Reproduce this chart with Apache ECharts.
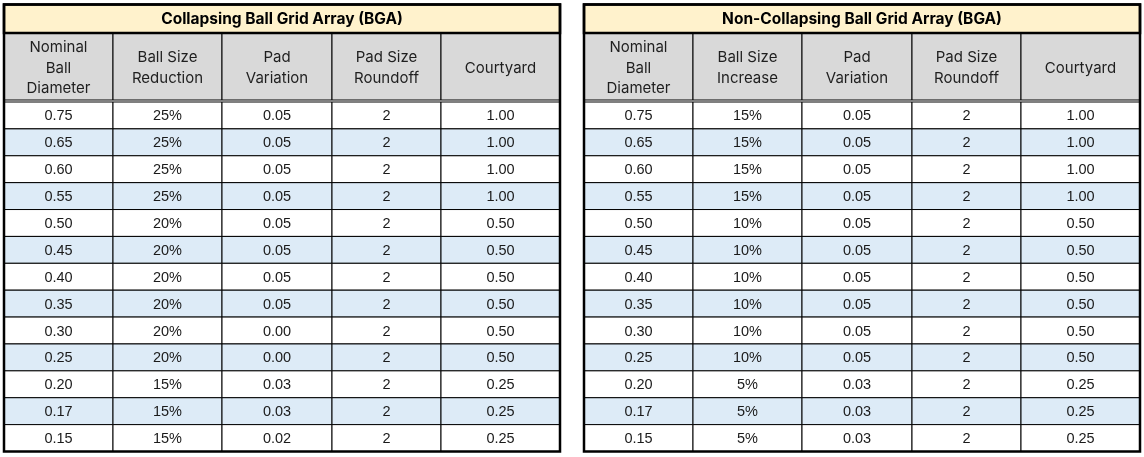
<!DOCTYPE html>
<html>
<head>
<meta charset="utf-8">
<title>BGA Tables</title>
<script src="https://cdn.jsdelivr.net/npm/echarts@6/dist/echarts.min.js"></script>
<style>
  html, body { margin: 0; padding: 0; background: #fff; }
  #chart { width: 1144px; height: 457px; }
</style>
</head>
<body>
<div id="chart"></div>
<script>
// 表格数据
const diameters = ['0.75', '0.65', '0.60', '0.55', '0.50', '0.45', '0.40', '0.35', '0.30', '0.25', '0.20', '0.17', '0.15'];

const collapsingTitle = 'Collapsing Ball Grid Array (BGA)';
const collapsingHeaders = ['Nominal\nBall\nDiameter', 'Ball Size\nReduction', 'Pad\nVariation', 'Pad Size\nRoundoff', 'Courtyard'];
const collapsingReduction = ['25%', '25%', '25%', '25%', '20%', '20%', '20%', '20%', '20%', '20%', '15%', '15%', '15%'];
const collapsingPadVariation = ['0.05', '0.05', '0.05', '0.05', '0.05', '0.05', '0.05', '0.05', '0.00', '0.00', '0.03', '0.03', '0.02'];
const collapsingRoundoff = ['2', '2', '2', '2', '2', '2', '2', '2', '2', '2', '2', '2', '2'];
const collapsingCourtyard = ['1.00', '1.00', '1.00', '1.00', '0.50', '0.50', '0.50', '0.50', '0.50', '0.50', '0.25', '0.25', '0.25'];

const nonCollapsingTitle = 'Non-Collapsing Ball Grid Array (BGA)';
const nonCollapsingHeaders = ['Nominal\nBall\nDiameter', 'Ball Size\nIncrease', 'Pad\nVariation', 'Pad Size\nRoundoff', 'Courtyard'];
const nonCollapsingIncrease = ['15%', '15%', '15%', '15%', '10%', '10%', '10%', '10%', '10%', '10%', '5%', '5%', '5%'];
const nonCollapsingPadVariation = ['0.05', '0.05', '0.05', '0.05', '0.05', '0.05', '0.05', '0.05', '0.05', '0.05', '0.03', '0.03', '0.03'];
const nonCollapsingRoundoff = ['2', '2', '2', '2', '2', '2', '2', '2', '2', '2', '2', '2', '2'];
const nonCollapsingCourtyard = ['1.00', '1.00', '1.00', '1.00', '0.50', '0.50', '0.50', '0.50', '0.50', '0.50', '0.25', '0.25', '0.25'];

// 布局（表格内部坐标）
const TABLE_W = 556;
const TABLE_H = 447;
const COL_EDGES = [0, 109, 218, 328, 437, 556];
const TITLE_BOTTOM = 28.5;
const HEADER_BOTTOM = 95.5;
const BODY_TOP = 97.5;

const HEADER_FONT = 'Inter, "Noto Sans", sans-serif';
const BODY_FONT = '"Liberation Sans", Arial, sans-serif';

function rowSpan(row) {
  // row 0 = 表头, 1..n = 数据行
  if (row === 0) return [TITLE_BOTTOM, HEADER_BOTTOM];
  const h = (TABLE_H - BODY_TOP) / diameters.length;
  return [BODY_TOP + (row - 1) * h, BODY_TOP + row * h];
}

function buildTable(index, title, headers, columns) {
  const cells = [];
  headers.forEach((text, c) => cells.push({ c, r: 0, text }));
  diameters.forEach((d, r) => {
    columns.forEach((col, c) => cells.push({ c, r: r + 1, text: col[r] }));
  });

  const cellSeries = {
    type: 'custom',
    xAxisIndex: index,
    yAxisIndex: index,
    silent: true,
    clip: false,
    animation: false,
    data: cells.map(cell => [cell.c, cell.r]),
    renderItem(params, api) {
      const cell = cells[params.dataIndex];
      const span = rowSpan(cell.r);
      const p0 = api.coord([COL_EDGES[cell.c], span[0]]);
      const p1 = api.coord([COL_EDGES[cell.c + 1], span[1]]);
      const isHeader = cell.r === 0;
      const fill = isHeader ? '#D9D9D9' : (cell.r % 2 === 0 ? '#DDEBF7' : '#FFFFFF');
      return {
        type: 'group',
        children: [
          {
            type: 'rect',
            shape: { x: p0[0], y: p0[1], width: p1[0] - p0[0], height: p1[1] - p0[1] },
            style: { fill, stroke: '#000', lineWidth: 1 }
          },
          {
            type: 'text',
            style: {
              text: cell.text,
              x: (p0[0] + p1[0]) / 2,
              y: (p0[1] + p1[1]) / 2 + (isHeader ? 1.5 : 1),
              textAlign: 'center',
              textVerticalAlign: 'middle',
              fontFamily: isHeader ? HEADER_FONT : BODY_FONT,
              fontSize: isHeader ? 15 : 14.5,
              lineHeight: 20.5,
              fill: isHeader ? '#1f1f1f' : '#1a1a1a'
            }
          }
        ]
      };
    }
  };

  const frameSeries = {
    type: 'custom',
    xAxisIndex: index,
    yAxisIndex: index,
    silent: true,
    clip: false,
    animation: false,
    z: 5,
    data: [[0, 0]],
    renderItem(params, api) {
      const p0 = api.coord([0, 0]);
      const p1 = api.coord([TABLE_W, TITLE_BOTTOM]);
      const p2 = api.coord([TABLE_W, TABLE_H]);
      return {
        type: 'group',
        children: [
          {
            type: 'rect',
            shape: { x: p0[0], y: p0[1], width: p1[0] - p0[0], height: p1[1] - p0[1] },
            style: { fill: '#FFF2CC', stroke: '#000', lineWidth: 2.5 }
          },
          {
            type: 'text',
            style: {
              text: title,
              x: (p0[0] + p1[0]) / 2,
              y: (p0[1] + p1[1]) / 2 + 0.5,
              textAlign: 'center',
              textVerticalAlign: 'middle',
              fontFamily: HEADER_FONT,
              fontWeight: 'bold',
              fontSize: 15.5,
              fill: '#000'
            }
          },
          {
            type: 'rect',
            shape: { x: p0[0], y: p0[1], width: p2[0] - p0[0], height: p2[1] - p0[1] },
            style: { fill: 'none', stroke: '#000', lineWidth: 2.5 }
          }
        ]
      };
    }
  };

  return [cellSeries, frameSeries];
}

const chart = echarts.init(document.getElementById('chart'));

const gridBase = { top: 4.5, width: TABLE_W, height: TABLE_H };
const axisBase = { type: 'value', show: false, min: 0 };

chart.setOption({
  backgroundColor: '#fff',
  animation: false,
  grid: [
    { ...gridBase, left: 4 },
    { ...gridBase, left: 584 }
  ],
  xAxis: [
    { ...axisBase, max: TABLE_W, gridIndex: 0 },
    { ...axisBase, max: TABLE_W, gridIndex: 1 }
  ],
  yAxis: [
    { ...axisBase, max: TABLE_H, inverse: true, gridIndex: 0 },
    { ...axisBase, max: TABLE_H, inverse: true, gridIndex: 1 }
  ],
  series: [
    ...buildTable(0, collapsingTitle, collapsingHeaders,
      [diameters, collapsingReduction, collapsingPadVariation, collapsingRoundoff, collapsingCourtyard]),
    ...buildTable(1, nonCollapsingTitle, nonCollapsingHeaders,
      [diameters, nonCollapsingIncrease, nonCollapsingPadVariation, nonCollapsingRoundoff, nonCollapsingCourtyard])
  ]
});

window.addEventListener('resize', () => chart.resize());
</script>
</body>
</html>
